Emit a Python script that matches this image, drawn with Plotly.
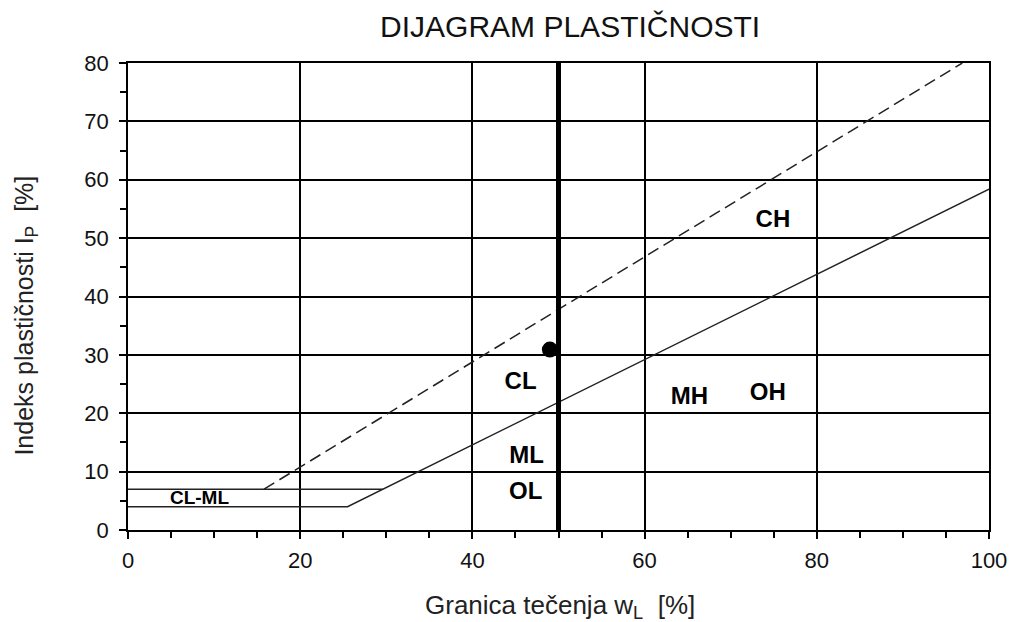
import plotly.graph_objects as go

# A-line: Ip = 0.73 (wL - 20), from Ip=4
a_line_x = [0, 25.5, 100]
a_line_y = [4, 4, 58.4]
# U-line (dashed): Ip = 0.9 (wL - 8)
u_line_x = [15.8, 96.9]
u_line_y = [7, 80]
# Ip = 7 boundary
h7_x = [0, 29.6]
h7_y = [7, 7]
# wL = 50 boundary
v50_x = [50, 50]
v50_y = [0, 80]
# sample point
pt_x = [49]
pt_y = [30.9]

zone_labels = ["CH", "CL", "MH", "OH", "ML", "OL"]
zone_x = [74.9, 45.6, 65.2, 74.3, 46.3, 46.2]
zone_y = [53.0, 25.2, 22.6, 23.3, 12.5, 6.4]

font = "Arial, 'Liberation Sans', sans-serif"

fig = go.Figure()
fig.add_trace(go.Scatter(x=a_line_x, y=a_line_y, mode="lines",
                         line=dict(color="#222", width=1.5), hoverinfo="skip"))
fig.add_trace(go.Scatter(x=u_line_x, y=u_line_y, mode="lines",
                         line=dict(color="#222", width=1.5, dash="12px,6px"), hoverinfo="skip"))
fig.add_trace(go.Scatter(x=h7_x, y=h7_y, mode="lines",
                         line=dict(color="#222", width=1.5), hoverinfo="skip"))
fig.add_trace(go.Scatter(x=v50_x, y=v50_y, mode="lines",
                         line=dict(color="black", width=5), hoverinfo="skip"))
fig.add_trace(go.Scatter(x=pt_x, y=pt_y, mode="markers",
                         marker=dict(color="black", size=16)))
fig.add_trace(go.Scatter(x=zone_x, y=zone_y, mode="text", text=zone_labels,
                         textfont=dict(family=font, size=24, color="black", weight="bold"),
                         textposition="middle center", hoverinfo="skip"))
fig.add_trace(go.Scatter(x=[8.3], y=[5.2], mode="text", text=["CL-ML"],
                         textfont=dict(family=font, size=19, color="black", weight="bold"),
                         textposition="middle center", hoverinfo="skip"))

fig.update_layout(
    width=1011, height=614,
    margin=dict(l=120, r=25, t=55, b=92),
    paper_bgcolor="white", plot_bgcolor="white",
    showlegend=False,
    font=dict(family=font, color="black"),
    title=dict(text="DIJAGRAM PLASTIČNOSTI", x=0.556, xanchor="center",
               y=0.97, yanchor="middle", font=dict(size=30, family=font, color="#111")),
    xaxis=dict(range=[0, 100], dtick=20, showgrid=True, gridcolor="black", gridwidth=1.5,
               showline=True, linecolor="black", linewidth=1.5, mirror=True,
               ticks="outside", ticklen=7, tickcolor="black", tickwidth=1.5,
               ticklabelstandoff=3,
               minor=dict(dtick=5, ticks="outside", ticklen=6, tickcolor="black", showgrid=False),
               tickfont=dict(size=22, family=font, color="#111"), zeroline=False),
    yaxis=dict(range=[0, 80], dtick=10, showgrid=True, gridcolor="black", gridwidth=1.5,
               showline=True, linecolor="black", linewidth=1.5, mirror=True,
               ticks="outside", ticklen=7, tickcolor="black", tickwidth=1.5,
               ticklabelstandoff=6,
               minor=dict(dtick=5, ticks="outside", ticklen=6, tickcolor="black", showgrid=False),
               tickfont=dict(size=22, family=font, color="#111"), zeroline=False),
    annotations=[
        dict(text="Granica tečenja w<sub>L</sub>  [%]", xref="paper", yref="paper",
             x=0.502, y=-0.163, xanchor="center", yanchor="middle", showarrow=False,
             font=dict(size=26, family=font, color="#222")),
        dict(text="Indeks plastičnosti I<sub>P</sub>  [%]", xref="paper", yref="paper",
             x=-0.118, y=0.46, xanchor="center", yanchor="middle", showarrow=False,
             textangle=-90, font=dict(size=25, family=font, color="#222")),
    ],
)

fig.write_html("out.html")
